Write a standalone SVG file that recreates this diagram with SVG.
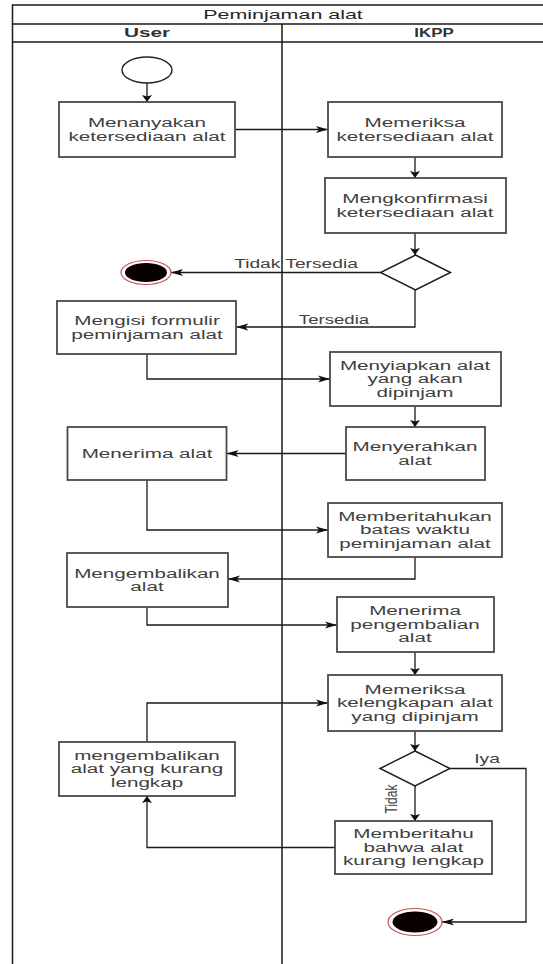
<svg xmlns="http://www.w3.org/2000/svg" width="543" height="964" viewBox="0 0 543 964">
<style>
.frame{fill:none;stroke:#1a1a1a;stroke-width:1.5}
.box{fill:#fff;stroke:#4a4a4a;stroke-width:1.8}
.dia{fill:#fff;stroke:#1a1a1a;stroke-width:1.4}
.con{fill:none;stroke:#1a1a1a;stroke-width:1.3}
.t{font-family:"Liberation Sans",Arial,sans-serif;font-size:12px;fill:#404040;text-anchor:middle}
.title{font-family:"Liberation Sans",Arial,sans-serif;font-size:13px;fill:#262626;text-anchor:middle}
.h{font-family:"Liberation Sans",Arial,sans-serif;font-size:13px;font-weight:bold;fill:#333;text-anchor:middle}
.lbl{font-family:"Liberation Sans",Arial,sans-serif;font-size:12px;fill:#404040;text-anchor:middle}
</style>
<defs>
<marker id="aV" markerUnits="userSpaceOnUse" markerWidth="10" markerHeight="12" refX="7" refY="5.5" orient="auto">
<path d="M0,0.5 L7,5.5 L0,10.5 L1.5,5.5 z" fill="#111"/>
</marker>
<marker id="aH" markerUnits="userSpaceOnUse" markerWidth="14" markerHeight="10" refX="12" refY="4" orient="auto">
<path d="M0,0.5 L12,4 L0,7.5 L3,4 z" fill="#111"/>
</marker>
</defs>
<rect x="0" y="0" width="543" height="964" fill="#fff"/>
<g id="pool">
<path class="frame" d="M12.5,964 V5 H543 M12.5,24 H543 M12.5,42 H543 M282,24 V964"/>
<text class="title" transform="matrix(1.65 0 0 1 283 0)" x="0" y="19">Peminjaman alat</text>
<text class="h" transform="matrix(1.6 0 0 1 147 0)" x="0" y="37.5">User</text>
<text class="h" transform="matrix(1.3 0 0 1 434 0)" x="0" y="37.5">IKPP</text>
</g>
<g id="connectors">
<path class="con" d="M147,83 V102" marker-end="url(#aV)"/>
<path class="con" d="M234.6,129.5 H328" marker-end="url(#aH)"/>
<path class="con" d="M415,157 V178" marker-end="url(#aV)"/>
<path class="con" d="M415,233 V255" marker-end="url(#aV)"/>
<path class="con" d="M380.5,272.5 H171" marker-end="url(#aH)"/>
<path class="con" d="M415,290 V327 H236.3" marker-end="url(#aH)"/>
<path class="con" d="M147,354 V379 H330" marker-end="url(#aH)"/>
<path class="con" d="M415,406 V427" marker-end="url(#aV)"/>
<path class="con" d="M346,453.5 H226.6" marker-end="url(#aH)"/>
<path class="con" d="M147,480 V530 H328" marker-end="url(#aH)"/>
<path class="con" d="M415,557 V579 H228" marker-end="url(#aH)"/>
<path class="con" d="M147,607 V625 H337" marker-end="url(#aH)"/>
<path class="con" d="M415,652 V675" marker-end="url(#aV)"/>
<path class="con" d="M415,731 V751" marker-end="url(#aV)"/>
<path class="con" d="M450,768.5 H526 V922 H442" marker-end="url(#aH)"/>
<path class="con" d="M415,786 V821" marker-end="url(#aV)"/>
<path class="con" d="M335,847.5 H147 V796" marker-end="url(#aV)"/>
<path class="con" d="M147,742 V703 H328" marker-end="url(#aH)"/>
<text class="lbl" transform="matrix(1.6 0 0 1 296 0)" x="0" y="268">Tidak Tersedia</text>
<text class="lbl" transform="matrix(1.55 0 0 1 334 0)" x="0" y="324">Tersedia</text>
<text class="lbl" transform="matrix(1.6 0 0 1 487 0)" x="0" y="763">Iya</text>
<text class="lbl" font-size="11" transform="matrix(0 -1 1.3 0 392 799)" x="0" y="4">Tidak</text>
</g>
<g id="start"><ellipse cx="147" cy="70" rx="25" ry="13" fill="#fff" stroke="#222" stroke-width="1.4"/></g>
<g id="n1"><rect class="box" x="59" y="102" width="176" height="55"/>
<text class="t" transform="matrix(1.72 0 0 1 147 0)"><tspan x="0" y="127.05">Menanyakan</tspan><tspan x="0" y="140.55">ketersediaan alat</tspan></text></g>
<g id="n2"><rect class="box" x="328" y="102" width="174" height="55"/>
<text class="t" transform="matrix(1.72 0 0 1 415 0)"><tspan x="0" y="127.05">Memeriksa</tspan><tspan x="0" y="140.55">ketersediaan alat</tspan></text></g>
<g id="n3"><rect class="box" x="325" y="178" width="181" height="55"/>
<text class="t" transform="matrix(1.72 0 0 1 415 0)"><tspan x="0" y="203.05">Mengkonfirmasi</tspan><tspan x="0" y="216.55">ketersediaan alat</tspan></text></g>
<g id="d1"><polygon class="dia" points="415.5,255 450.5,272.5 415.5,290 380.5,272.5"/></g>
<g id="end1"><ellipse cx="146" cy="272.5" rx="25" ry="12" fill="#fff" stroke="#d05050" stroke-width="1.2"/><ellipse cx="146" cy="272.5" rx="21" ry="9.5" fill="#0a0000"/></g>
<g id="n4"><rect class="box" x="57" y="301" width="179" height="53"/>
<text class="t" transform="matrix(1.72 0 0 1 147 0)"><tspan x="0" y="325.05">Mengisi formulir</tspan><tspan x="0" y="338.55">peminjaman alat</tspan></text></g>
<g id="n5"><rect class="box" x="330" y="352" width="171" height="54"/>
<text class="t" transform="matrix(1.72 0 0 1 415 0)"><tspan x="0" y="369.8">Menyiapkan alat</tspan><tspan x="0" y="383.3">yang akan</tspan><tspan x="0" y="396.8">dipinjam</tspan></text></g>
<g id="n6"><rect class="box" x="346" y="427" width="139" height="53"/>
<text class="t" transform="matrix(1.72 0 0 1 415 0)"><tspan x="0" y="451.05">Menyerahkan</tspan><tspan x="0" y="464.55">alat</tspan></text></g>
<g id="n7"><rect class="box" x="67.5" y="427" width="159" height="53"/>
<text class="t" transform="matrix(1.72 0 0 1 147 0)" x="0" y="457.8">Menerima alat</text></g>
<g id="n8"><rect class="box" x="328" y="503" width="174" height="54"/>
<text class="t" transform="matrix(1.72 0 0 1 415 0)"><tspan x="0" y="520.8">Memberitahukan</tspan><tspan x="0" y="534.3">batas waktu</tspan><tspan x="0" y="547.8">peminjaman alat</tspan></text></g>
<g id="n9"><rect class="box" x="67" y="553" width="161" height="54"/>
<text class="t" transform="matrix(1.72 0 0 1 147 0)"><tspan x="0" y="577.55">Mengembalikan</tspan><tspan x="0" y="591.05">alat</tspan></text></g>
<g id="n10"><rect class="box" x="337" y="597" width="157" height="55"/>
<text class="t" transform="matrix(1.72 0 0 1 415 0)"><tspan x="0" y="615.3">Menerima</tspan><tspan x="0" y="628.8">pengembalian</tspan><tspan x="0" y="642.3">alat</tspan></text></g>
<g id="n11"><rect class="box" x="328" y="675" width="174" height="56"/>
<text class="t" transform="matrix(1.72 0 0 1 415 0)"><tspan x="0" y="693.8">Memeriksa</tspan><tspan x="0" y="707.3">kelengkapan alat</tspan><tspan x="0" y="720.8">yang dipinjam</tspan></text></g>
<g id="d2"><polygon class="dia" points="415,751 450,768.5 415,786 380,768.5"/></g>
<g id="n12"><rect class="box" x="59" y="742" width="176" height="54"/>
<text class="t" transform="matrix(1.72 0 0 1 147 0)"><tspan x="0" y="759.8">mengembalikan</tspan><tspan x="0" y="773.3">alat yang kurang</tspan><tspan x="0" y="786.8">lengkap</tspan></text></g>
<g id="n13"><rect class="box" x="335" y="821" width="157" height="53"/>
<text class="t" transform="matrix(1.72 0 0 1 413.5 0)"><tspan x="0" y="838.3">Memberitahu</tspan><tspan x="0" y="851.8">bahwa alat</tspan><tspan x="0" y="865.3">kurang lengkap</tspan></text></g>
<g id="end2"><ellipse cx="415" cy="922" rx="27" ry="13.5" fill="#fff" stroke="#d05050" stroke-width="1.2"/><ellipse cx="415" cy="922" rx="22.5" ry="10.5" fill="#0a0000"/></g>
</svg>
